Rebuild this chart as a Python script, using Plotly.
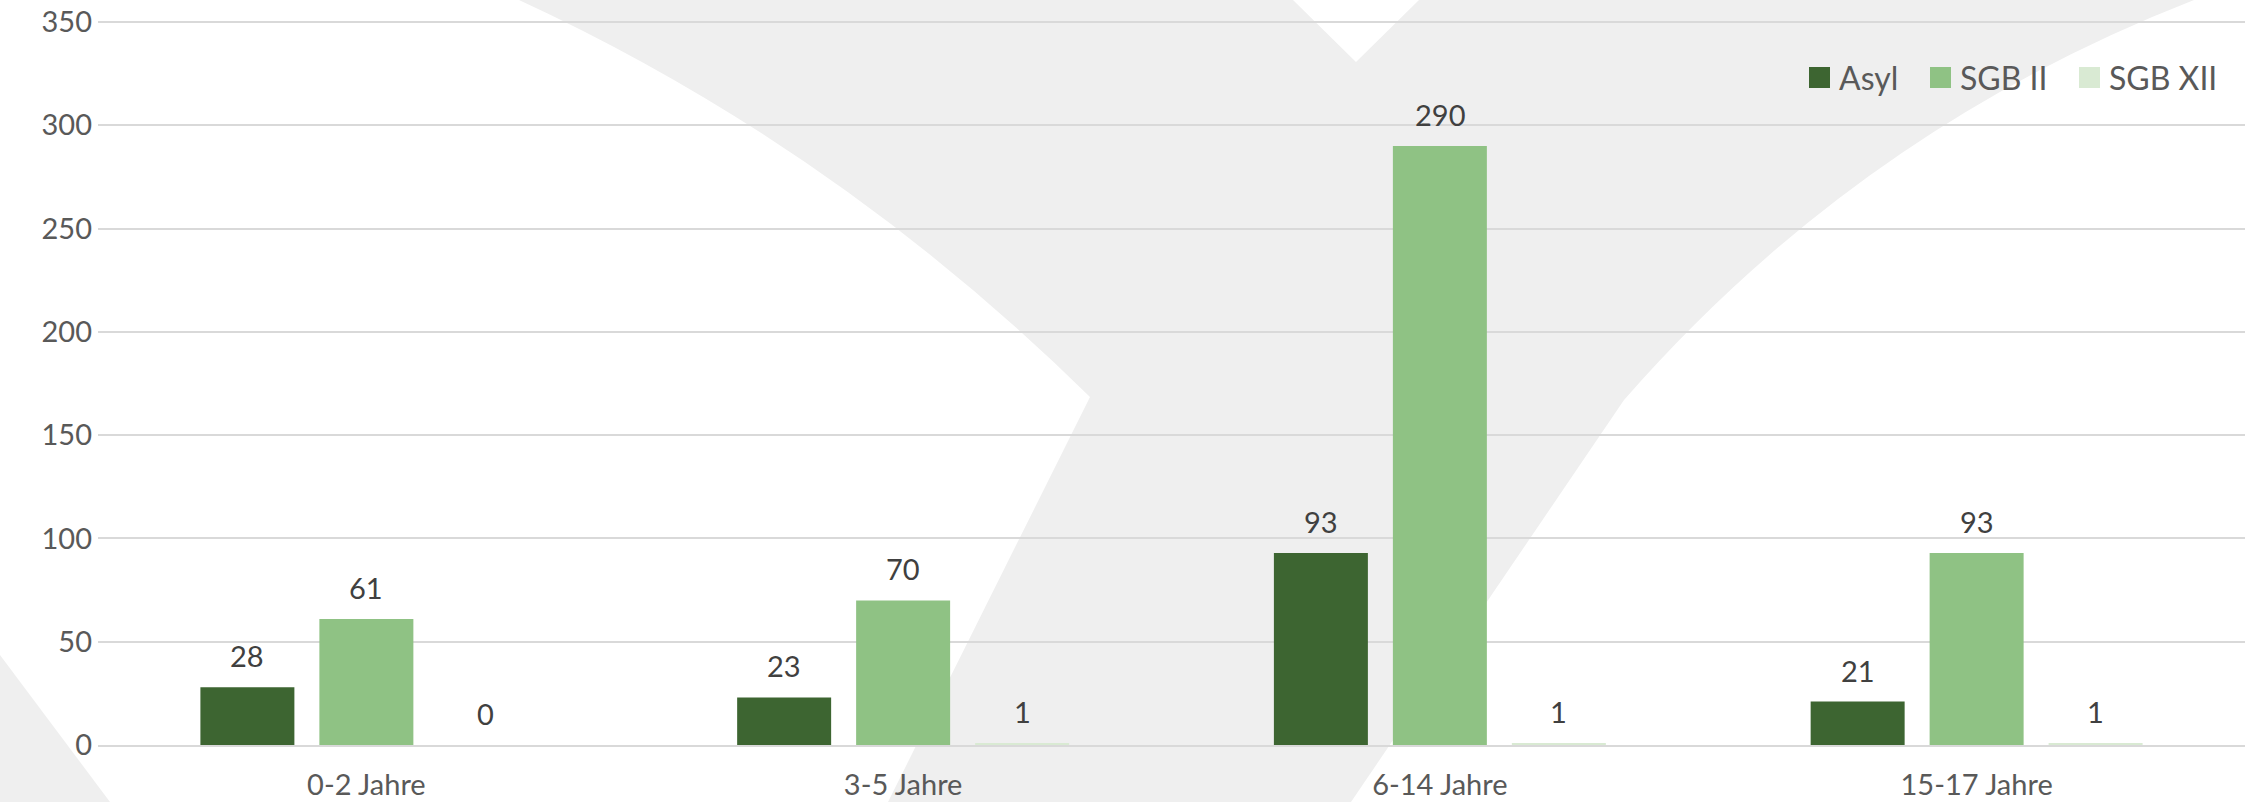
import plotly.graph_objects as go

# ---------------- data ----------------
categories = ["0-2 Jahre", "3-5 Jahre", "6-14 Jahre", "15-17 Jahre"]
series_names = ["Asyl", "SGB II", "SGB XII"]
asyl = [28, 23, 93, 21]
sgb2 = [61, 70, 290, 93]
sgb12 = [0, 1, 1, 1]
y_ticks = [0, 50, 100, 150, 200, 250, 300, 350]

colors = ["#3d6531", "#8fc284", "#d9ead3"]
values = [asyl, sgb2, sgb12]

# ---------------- geometry ----------------
W, H = 2249, 802
L, R, T, B = 98, 4, 20, 57
PW, PH = W - L - R, H - T - B
Y_MAX = 351
BARGAP = 0.335
BARGROUPGAP = 0.21
FONT = "Lato"


def px2paper(px, py):
    return (px - L) / PW, (H - B - py) / PH


fig = go.Figure()
for name, vals, col in zip(series_names, values, colors):
    fig.add_trace(go.Bar(
        x=categories, y=vals, name=name,
        marker=dict(color=col, line=dict(width=0)),
        showlegend=False, hoverinfo="x+y+name",
    ))

# data labels
slot_px = PW / len(categories) * (1 - BARGAP) / len(series_names)
annotations = []
for i, vals in enumerate(values):
    for c, v in zip(categories, vals):
        annotations.append(dict(
            x=c, y=v, xref="x", yref="y", text=str(v), showarrow=False,
            xanchor="center", yanchor="bottom",
            xshift=(i - 1) * slot_px, yshift=12,
            font=dict(family=FONT, size=29, color="#404040"),
        ))

# manual legend (top right)
shapes = []
legend_items = [(1809, "Asyl"), (1930, "SGB II"), (2079, "SGB XII")]
for (lx, txt), col in zip(legend_items, colors):
    x0, y0 = px2paper(lx, 88)
    x1, y1 = px2paper(lx + 21, 67)
    shapes.append(dict(type="rect", xref="paper", yref="paper",
                       x0=x0, x1=x1, y0=y0, y1=y1,
                       fillcolor=col, line=dict(width=0), layer="above"))
    tx, ty = px2paper(lx + 28, 77)
    annotations.append(dict(
        x=tx, y=ty, xref="paper", yref="paper", text=txt, showarrow=False,
        xanchor="left", yanchor="middle",
        font=dict(family=FONT, size=32, color="#595959"),
    ))


# background watermark (light grey logo shape)
def P(px, py):
    x, y = px2paper(px, py)
    return f"{x:.5f},{y:.5f}"


wm_path = (
    "M " + P(519, 0)
    + " Q " + P(835, 146) + " " + P(1090, 397)
    + " L " + P(888, 802)
    + " L " + P(1351, 802)
    + " L " + P(1624, 400)
    + " Q " + P(1860, 130) + " " + P(2194, 0)
    + " L " + P(1419, 0)
    + " L " + P(1356, 62)
    + " L " + P(1293, 0)
    + " Z"
)
corner_path = "M " + P(0, 655) + " L " + P(110, 802) + " L " + P(0, 802) + " Z"
for path in (wm_path, corner_path):
    shapes.append(dict(type="path", xref="paper", yref="paper", path=path,
                       fillcolor="#efefef", line=dict(width=0), layer="below"))

fig.update_layout(
    width=W, height=H,
    margin=dict(l=L, r=R, t=T, b=B, pad=0),
    paper_bgcolor="white", plot_bgcolor="rgba(0,0,0,0)",
    barmode="group", bargap=BARGAP, bargroupgap=BARGROUPGAP,
    font=dict(family=FONT, size=29, color="#595959"),
    showlegend=False,
    annotations=annotations, shapes=shapes,
)
fig.update_xaxes(
    type="category", showgrid=False, zeroline=False,
    showline=True, linecolor="#d9d9d9", linewidth=2,
    ticks="", tickfont=dict(family=FONT, size=29, color="#595959"),
    ticklabelstandoff=13, fixedrange=True, automargin=False,
)
fig.update_yaxes(
    range=[0, Y_MAX], tickvals=y_ticks, showgrid=True,
    gridcolor="#d9d9d9", gridwidth=2, zeroline=False, showline=False,
    ticks="", tickfont=dict(family=FONT, size=29, color="#595959"),
    ticklabelstandoff=5, fixedrange=True, automargin=False,
)

fig.write_html(
    "out.html",
    config={"displayModeBar": False, "responsive": False},
    post_script="document.body.style.margin='0px';",
)
